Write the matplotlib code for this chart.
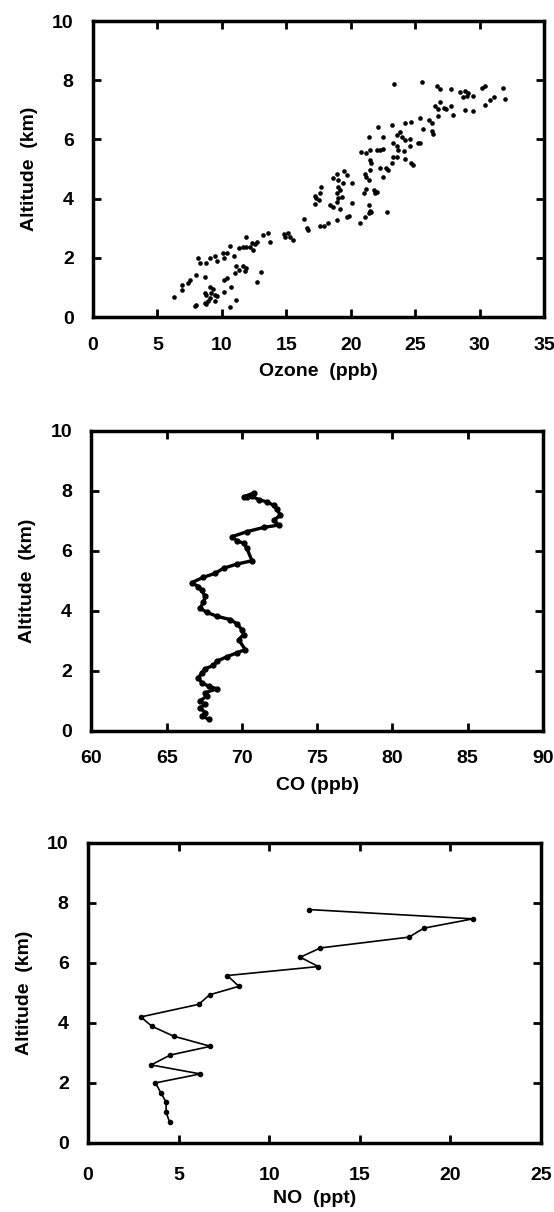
import matplotlib.pyplot as plt

plt.rcParams['font.family'] = ['Liberation Sans', 'DejaVu Sans']
plt.rcParams['font.weight'] = 'bold'
plt.rcParams['axes.labelweight'] = 'bold'

# ozone scatter (ppb, km)
ozone_x = [23.35, 25.55, 26.7, 26.9, 27.8, 28.5, 28.9, 29.1, 28.7, 29.0, 29.5, 30.2, 30.4, 31.8, 32.0,
           30.8, 31.1, 30.4, 29.5, 28.9, 27.8, 27.9, 26.9, 26.5, 26.8, 27.2, 27.4, 26.8, 26.1, 26.3,
           25.4, 24.7, 24.2, 25.6, 26.3, 26.4, 23.2, 22.1, 23.8, 23.6, 24.0, 24.2, 24.6, 25.2, 25.4,
           21.4, 22.5, 23.3, 23.6, 23.7, 24.6, 24.1, 21.5, 22.0, 22.3, 22.5, 20.8, 21.2, 23.3, 23.6,
           24.2, 24.7, 24.8, 21.5, 21.6, 23.2, 22.9, 22.7, 22.3, 22.5, 21.5, 21.1, 21.2, 21.4, 21.2,
           21.0, 21.8, 22.0, 21.9, 18.9, 19.5, 19.7, 18.6, 19.0, 19.4, 20.1, 19.0, 19.2, 18.9, 17.7,
           17.6, 17.2, 17.3, 17.5, 17.2, 19.0, 19.3, 18.9, 18.4, 18.6, 19.2, 20.1, 21.4, 21.5, 21.4,
           21.6, 21.1, 22.8, 19.7, 19.9, 18.9, 18.2, 17.9, 17.6, 20.7, 16.4, 16.7, 16.6, 14.8, 15.1,
           15.3, 15.5, 14.9, 13.2, 13.6, 13.7, 11.9, 12.3, 12.6, 12.7, 12.2, 12.4, 10.6, 11.3, 11.6,
           11.9, 10.4, 10.9, 9.45, 9.06, 8.8, 8.15, 8.3, 9.6, 10.1, 10.2, 11.1, 11.6, 11.9, 11.3,
           11.0, 11.8, 13.0, 12.7, 10.4, 10.2, 10.7, 10.2, 8.67, 8.0, 7.5, 7.4, 6.9, 6.9, 6.3,
           9.06, 9.32, 9.19, 8.8, 8.67, 9.45, 9.58, 9.06, 8.93, 8.67, 9.45, 8.8, 8.02, 7.9, 11.1, 10.6]
ozone_alt = [7.87, 7.93, 7.82, 7.69, 7.69, 7.6, 7.64, 7.57, 7.43, 7.48, 7.46, 7.75, 7.8, 7.74, 7.36,
             7.35, 7.42, 7.15, 6.96, 7.01, 7.12, 6.82, 7.27, 7.12, 7.04, 7.08, 7.04, 6.79, 6.65, 6.56,
             6.71, 6.6, 6.54, 6.35, 6.29, 6.18, 6.48, 6.43, 6.26, 6.15, 6.09, 5.98, 6.0, 5.87, 5.89,
             6.09, 6.07, 5.87, 5.79, 5.64, 5.79, 5.62, 5.66, 5.64, 5.66, 5.69, 5.58, 5.53, 5.42, 5.42,
             5.34, 5.22, 5.13, 5.3, 5.19, 5.19, 4.97, 5.02, 5.02, 4.74, 4.97, 4.85, 4.74, 4.63, 4.33,
             4.18, 4.29, 4.24, 4.18, 4.85, 4.94, 4.8, 4.69, 4.63, 4.54, 4.54, 4.4, 4.29, 4.18, 4.38,
             4.2, 4.09, 4.02, 3.96, 3.82, 4.02, 4.07, 3.9, 3.79, 3.71, 3.64, 3.84, 3.79, 3.6, 3.51,
             3.56, 3.39, 3.55, 3.37, 3.42, 3.28, 3.17, 3.06, 3.08, 3.17, 3.3, 2.94, 3.0, 2.81, 2.83,
             2.7, 2.61, 2.72, 2.78, 2.85, 2.55, 2.7, 2.49, 2.47, 2.52, 2.38, 2.25, 2.4, 2.33, 2.36,
             2.38, 2.16, 2.07, 2.07, 1.99, 1.82, 1.99, 1.82, 1.88, 2.16, 1.99, 1.71, 1.73, 1.65, 1.6,
             1.48, 1.54, 1.51, 1.17, 1.31, 1.24, 1.01, 0.83, 1.37, 1.43, 1.26, 1.15, 1.09, 0.92, 0.67,
             1.03, 0.94, 0.81, 0.75, 0.81, 0.75, 0.70, 0.64, 0.53, 0.47, 0.53, 0.45, 0.42, 0.38, 0.56, 0.34]

# CO profile (ppb, km)
co_x = [67.78, 67.33, 67.56, 67.22, 67.56, 67.22, 67.67, 67.56, 68.33, 67.78, 67.33, 67.11, 67.33,
        67.56, 68.11, 68.33, 69.0, 69.67, 70.22, 69.78, 70.11, 70.0, 69.67, 69.22, 68.33, 67.67, 67.22,
        67.44, 67.56, 67.33, 67.11, 66.67, 67.44, 68.22, 68.78, 69.67, 70.67, 70.33, 70.11, 69.67, 69.33,
        70.33, 71.44, 72.44, 72.11, 72.56, 72.33, 72.11, 71.67, 71.11, 70.67, 70.33, 70.11, 70.78]
co_alt = [0.39, 0.5, 0.61, 0.77, 0.88, 1.0, 1.16, 1.27, 1.40, 1.49, 1.60, 1.77, 1.94,
          2.07, 2.18, 2.32, 2.47, 2.6, 2.71, 3.04, 3.21, 3.37, 3.57, 3.71, 3.82, 3.95, 4.09,
          4.28, 4.48, 4.68, 4.81, 4.94, 5.12, 5.25, 5.42, 5.56, 5.67, 6.08, 6.25, 6.34, 6.47,
          6.64, 6.78, 6.86, 7.02, 7.19, 7.38, 7.52, 7.63, 7.71, 7.82, 7.78, 7.8, 7.93]

# NO profile (ppt, km)
no_x = [12.2, 21.26, 18.55, 17.72, 12.83, 11.72, 12.72, 7.69, 8.33, 6.72, 6.11, 2.91, 3.52, 4.72,
        6.76, 4.54, 3.48, 6.2, 3.72, 4.02, 4.31, 4.31, 4.5]
no_alt = [7.78, 7.47, 7.16, 6.86, 6.5, 6.19, 5.88, 5.58, 5.22, 4.94, 4.62, 4.2, 3.89, 3.56,
          3.22, 2.93, 2.6, 2.3, 2.0, 1.67, 1.36, 1.02, 0.7]

fig = plt.figure(figsize=(5.54, 12.12), dpi=100)
ax1 = fig.add_axes([0.168, 0.7384, 0.814, 0.2442])
ax2 = fig.add_axes([0.165, 0.397, 0.815, 0.2475])
ax3 = fig.add_axes([0.159, 0.057, 0.817, 0.2475])

ax1.scatter(ozone_x, ozone_alt, s=11, marker='o', color='black', linewidths=0)
ax1.set_xlim(0, 35)
ax1.set_xticks(range(0, 36, 5))
ax1.set_xlabel('Ozone  (ppb)')

ax2.plot(co_x, co_alt, color='black', lw=2.4, marker='o', ms=3.5)
ax2.set_xlim(60, 90)
ax2.set_xticks(range(60, 91, 5))
ax2.set_xlabel('CO (ppb)')

ax3.plot(no_x, no_alt, color='black', lw=1.2, marker='o', ms=3)
ax3.set_xlim(0, 25)
ax3.set_xticks(range(0, 26, 5))
ax3.set_xlabel('NO  (ppt)')

for ax in (ax1, ax2, ax3):
    ax.set_ylim(0, 10)
    ax.set_yticks(range(0, 11, 2))
    ax.set_ylabel('Altitude  (km)', fontsize=14, labelpad=10)
    ax.xaxis.label.set_fontsize(14)
    ax.xaxis.labelpad = 7
    ax.tick_params(direction='in', length=6, width=2, top=True, right=True,
                   labelsize=14, pad=14)
    for sp in ax.spines.values():
        sp.set_linewidth(2.5)

ax3.tick_params(axis='x', pad=17)
ax3.xaxis.labelpad = 5

fig.savefig('out.png', dpi=100)
